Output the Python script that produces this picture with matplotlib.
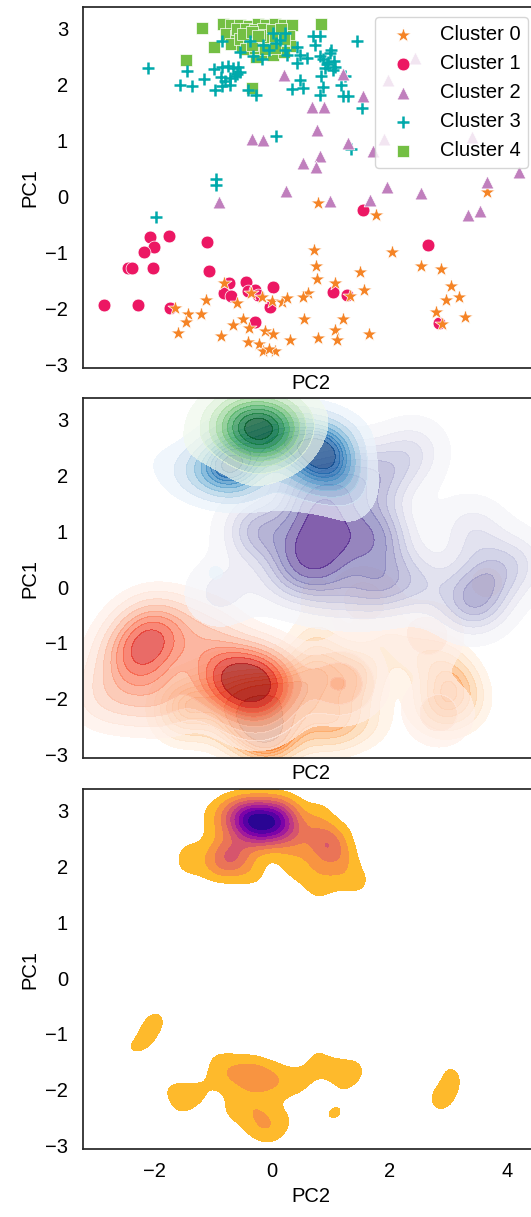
import numpy as np
import matplotlib
matplotlib.use("Agg")
import matplotlib.pyplot as plt

plt.rcParams['font.family'] = ['Liberation Sans', 'DejaVu Sans']
plt.rcParams['font.size'] = 14.5
plt.rcParams['axes.edgecolor'] = '.15'
plt.rcParams['axes.linewidth'] = 1.25

# points: PC2 on x, PC1 on y
c0_pc2 = [0.78, 1.77, 3.66, 0.72, 0.74, 0.76, 1.07, 1.49, 1.57, 1.32, 0.61, 0.53, 0.54, 1.20, 1.07, 1.11,
          0.78, 1.65, 2.05, 2.53, 2.87, 3.05, 3.18, 2.97, 2.79, 2.89, 3.29, -0.83, -1.13, -1.65, -1.44,
          -1.22, -1.47, -1.61, -0.60, -0.49, -0.66, -0.39, -0.87, -0.18, 0.00, 0.17, 0.25, -0.13, 0.01,
          -0.42, -0.23, -0.15, 0.04, -0.05, 0.30, -0.37]
c0_pc1 = [-0.12, -0.33, 0.08, -0.96, -1.24, -1.48, -1.54, -1.35, -1.67, -1.78, -1.72, -1.80, -2.19, -2.19,
          -2.38, -2.57, -2.53, -2.45, -1.00, -1.24, -1.30, -1.60, -1.79, -1.85, -2.07, -2.28, -2.15, -1.54,
          -1.85, -1.99, -2.09, -2.09, -2.24, -2.44, -1.90, -2.18, -2.29, -2.35, -2.49, -1.80, -1.87, -1.88,
          -1.82, -2.41, -2.46, -2.59, -2.63, -2.76, -2.76, -2.72, -2.56, -1.73]

c1_pc2 = [-2.08, -2.02, -2.19, -1.76, -2.45, -2.39, -2.03, -1.11, -1.08, -2.87, -2.28, -1.75, -0.74, -0.83,
          -0.70, -0.44, -0.42, -0.29, 0.02, -0.03, -0.29, -0.24, 2.66, 1.04, 1.27, 2.84, 1.55]
c1_pc1 = [-0.72, -0.90, -0.99, -0.71, -1.28, -1.28, -1.27, -0.82, -1.33, -1.93, -1.94, -2.00, -1.55, -1.73,
          -1.77, -1.53, -1.69, -1.67, -1.62, -1.97, -2.24, -1.76, -0.87, -1.70, -1.76, -2.26, -0.24]

c2_pc2 = [0.20, 1.21, 1.55, 0.68, 0.88, 0.77, -0.35, -0.16, 1.29, 1.72, 0.81, 0.52, 0.75, -0.90, 0.23, 0.98,
          1.67, 1.95, 2.54, 3.34, 3.54, 3.66, 4.21, 2.43, 1.98, 1.90, 3.40]
c2_pc1 = [2.17, 2.18, 1.78, 1.60, 1.60, 1.18, 1.03, 1.00, 0.95, 0.81, 0.71, 0.59, 0.52, -0.11, 0.10, -0.09,
          -0.07, 0.17, 0.06, -0.33, -0.26, 0.26, 0.43, 2.46, 2.07, 1.03, 1.06]

c3_pc2 = [-2.12, -1.57, -1.37, -1.17, -0.99, -0.98, -1.46, -0.85, -0.75, -0.67, -0.58, -0.55, -0.88, -0.80,
          -0.72, -0.63, -0.60, -0.85, -0.72, -0.86, -0.55, -0.38, -0.15, -0.06, -0.32, -0.18, 0.07, 0.02,
          0.22, 0.13, 0.22, 0.25, 0.42, 0.47, 0.59, 0.42, 0.70, 0.81, 0.73, 0.81, 0.87, 0.93, 0.98, 1.00,
          0.90, 1.03, 1.07, 0.95, 1.05, 1.44, 0.84, 0.47, 0.33, 0.53, 0.86, 1.18, 1.24, 0.81, 1.20, 1.30,
          1.53, -0.41, -0.28, 0.06, -0.96, -0.96, -1.98, 1.35]
c3_pc1 = [2.28, 1.98, 1.96, 2.09, 2.27, 1.89, 2.23, 2.30, 2.32, 2.28, 2.31, 2.22, 2.12, 2.06, 2.10, 2.15,
          2.18, 1.97, 1.98, 2.76, 2.58, 2.76, 2.70, 2.61, 2.50, 2.44, 2.73, 2.91, 2.91, 2.79, 2.61, 2.52,
          2.67, 2.52, 2.47, 2.38, 2.85, 2.85, 2.70, 2.50, 2.45, 2.35, 2.55, 2.60, 2.28, 2.25, 2.30, 2.40,
          2.42, 2.76, 2.14, 2.08, 1.91, 1.93, 1.94, 1.99, 2.14, 1.80, 1.78, 1.78, 1.57, 1.90, 1.80, 1.07,
          0.31, 0.20, -0.37, 0.84]

# many squares overlap in the core of cluster 4
c4_pc2 = [-1.19, -1.47, -0.99, -0.35, 0.84, -0.84, -0.70, -0.55, -0.40, -0.25, -0.10, 0.05, 0.20, 0.34,
          -0.78, -0.62, -0.48, -0.33, -0.18, -0.03, 0.12, 0.28, -0.70, -0.52, -0.38, -0.22, -0.08, 0.10,
          0.30, -0.15, 0.02, -0.28, 0.20, -0.60, -0.45, -0.30, -0.15, 0.00, 0.15, -0.55, -0.40, -0.25,
          -0.10, 0.05, 0.20, -0.45, -0.30, -0.12, 0.05, -0.20, -0.35, -0.50, -0.35, -0.25]
c4_pc1 = [3.00, 2.43, 2.66, 1.93, 3.08, 3.07, 3.05, 3.06, 3.04, 3.07, 3.05, 3.07, 3.06, 3.05, 2.90, 2.85,
          2.92, 2.88, 2.93, 2.86, 2.90, 2.85, 2.72, 2.68, 2.76, 2.72, 2.68, 2.74, 2.68, 2.55, 2.52, 2.48,
          2.58, 2.98, 2.99, 2.97, 2.99, 2.97, 2.98, 2.80, 2.82, 2.80, 2.80, 2.80, 2.80, 2.62, 2.64, 2.62,
          2.64, 2.88, 2.70, 2.90, 2.93, 2.85]

pc2 = [c0_pc2, c1_pc2, c2_pc2, c3_pc2, c4_pc2]
pc1 = [c0_pc1, c1_pc1, c2_pc1, c3_pc1, c4_pc1]
labels = ['Cluster 0', 'Cluster 1', 'Cluster 2', 'Cluster 3', 'Cluster 4']
markers = ['*', 'o', '^', '+', 's']
sizes = [130, 85, 85, 80, 85]
colors = ['#f58426', '#ec1763', '#c07fbd', '#00a9ab', '#74bf44']
kde_cmaps = ['Oranges', 'Reds', 'Purples', 'Blues', 'Greens']
kde_bw = [0.34, 0.40, 0.42, 0.36, 0.36]
kde_thresh = [0.08, 0.05, 0.05, 0.14, 0.08]


def kde_grid(xs, ys, XX, YY, bw):
    d = np.zeros_like(XX)
    for x0, y0 in zip(xs, ys):
        d += np.exp(-((XX - x0) ** 2 + (YY - y0) ** 2) / (2 * bw ** 2))
    return d / (2 * np.pi * bw ** 2 * len(xs))


def iso_levels(d, n=10, thresh=0.05):
    vals = np.sort(d.ravel())[::-1]
    cum = np.cumsum(vals) / vals.sum()
    idx = np.searchsorted(cum, 1 - np.linspace(thresh, 1, n))
    return np.unique(np.take(vals, idx, mode='clip'))


fig = plt.figure(figsize=(5.31, 12.17), dpi=100)
left, width = 0.1569, 0.8573
ax1 = fig.add_axes([left, 0.6974, width, 0.2971])
ax2 = fig.add_axes([left, 0.3769, width, 0.2958], sharex=ax1, sharey=ax1)
ax3 = fig.add_axes([left, 0.0555, width, 0.2960], sharex=ax1, sharey=ax1)

# scatter
handles = {}
for i in [4, 1, 0, 3, 2]:
    if markers[i] == '+':
        h = ax1.scatter(pc2[i], pc1[i], marker='+', s=sizes[i], c=colors[i], linewidths=1.8)
    else:
        h = ax1.scatter(pc2[i], pc1[i], marker=markers[i], s=sizes[i], c=colors[i],
                        edgecolors='white', linewidths=0.5)
    handles[i] = h
ax1.legend([handles[i] for i in range(5)], labels, loc='upper right',
           edgecolor='0.8', framealpha=0.8)

# per-cluster kde
gx = np.linspace(-5, 6.5, 400)
gy = np.linspace(-5, 5.5, 380)
XX, YY = np.meshgrid(gx, gy)
for i in range(5):
    d = kde_grid(pc2[i], pc1[i], XX, YY, kde_bw[i])
    ax2.contourf(XX, YY, d, levels=iso_levels(d, thresh=kde_thresh[i]),
                 cmap=kde_cmaps[i], alpha=0.7)

# overall density
all_x = np.concatenate(pc2)
all_y = np.concatenate(pc1)
dens = kde_grid(all_x, all_y, XX, YY, 0.22)
dmax = dens.max()
levels = np.linspace(0, dmax * 1.0001, 11)[1:]
ax3.contourf(XX, YY, dens, levels=levels, cmap='plasma_r', vmin=0, vmax=dmax)

ax1.set_xlim(-3.22, 4.54)
ax1.set_ylim(-3.066, 3.38)
ax1.set_xticks([-2, 0, 2, 4])
ax1.set_yticks([-3, -2, -1, 0, 1, 2, 3])
for ax in [ax1, ax2, ax3]:
    ax.set_xlabel('PC2')
    ax.set_ylabel('PC1')
    ax.tick_params(axis='both', length=0)
    ax.tick_params(axis='y', pad=11)
    ax.tick_params(axis='x', pad=9)
ax1.tick_params(labelbottom=False)
ax2.tick_params(labelbottom=False)

fig.savefig('out.png', dpi=100)
